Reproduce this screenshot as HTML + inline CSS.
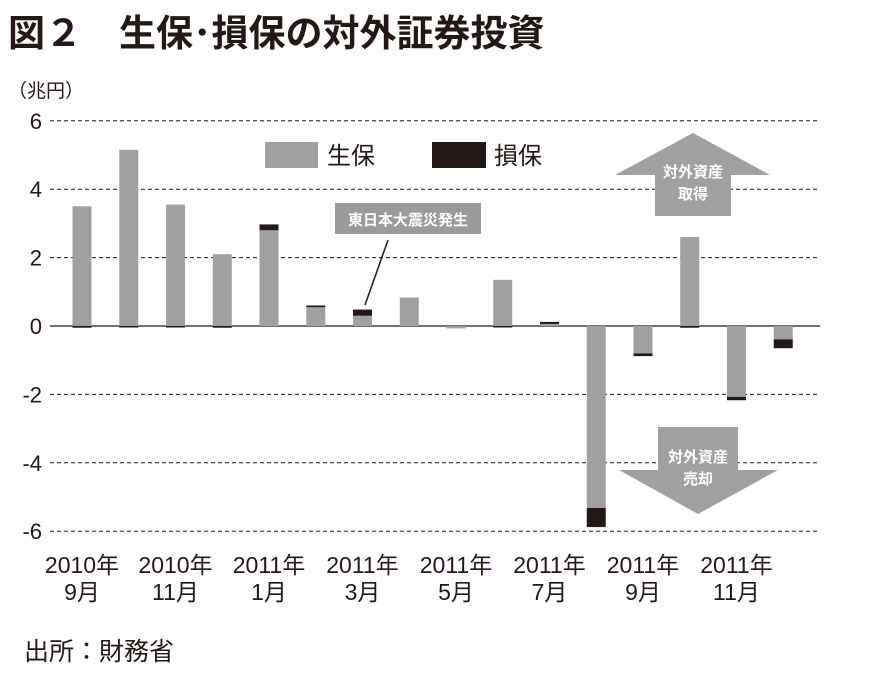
<!DOCTYPE html>
<html><head><meta charset="utf-8"><style>
body{margin:0;background:#fff;}
svg text{font-family:"Liberation Sans","Noto Sans CJK JP",sans-serif;}
</style></head><body>
<svg width="876" height="668" viewBox="0 0 876 668" xmlns="http://www.w3.org/2000/svg">
<text x="8" y="46" font-size="37" font-weight="bold" fill="#231815">図２　生保･損保の対外証券投資</text>
<text x="8" y="97" font-size="19" fill="#231815">（兆円）</text>
<g id="grid"></g>
<g id="bars"></g>
<g id="ylabels"></g>
<g id="xlabels"></g>
<g>
<rect x="265" y="142" width="53" height="26" fill="#a0a0a0"/>
<text x="327" y="164" font-size="24" fill="#231815">生保</text>
<rect x="432" y="142" width="54" height="26" fill="#231815"/>
<text x="494" y="164" font-size="24" fill="#231815">損保</text>
</g>
<g>
<rect x="335" y="203" width="146" height="31" fill="#9a9a9a"/>
<text x="408" y="225" font-size="15" font-weight="bold" fill="#fff" text-anchor="middle">東日本大震災発生</text>
<line x1="388" y1="240" x2="365" y2="305" stroke="#231815" stroke-width="1.5"/>
</g>
<g>
<polygon points="693,133 770,175 731,175 731,216 655,216 655,175 615,175" fill="#a0a0a0"/>
<text x="693" y="177" font-size="15" font-weight="bold" fill="#fff" text-anchor="middle">対外資産</text>
<text x="693" y="199" font-size="15" font-weight="bold" fill="#fff" text-anchor="middle">取得</text>
</g>
<g>
<polygon points="658,427 738,427 738,470 778,470 698,514 619,470 658,470" fill="#a0a0a0"/>
<text x="698" y="462" font-size="15" font-weight="bold" fill="#fff" text-anchor="middle">対外資産</text>
<text x="698" y="484" font-size="15" font-weight="bold" fill="#fff" text-anchor="middle">売却</text>
</g>
<text x="24" y="660" font-size="25" fill="#231815">出所：財務省</text>
</svg>
<script>
const months=["2010-09","2010-10","2010-11","2010-12","2011-01","2011-02","2011-03","2011-04","2011-05","2011-06","2011-07","2011-08","2011-09","2011-10","2011-11","2011-12"];
const seiho=[3.5,5.15,3.55,2.1,2.8,0.55,0.3,0.83,-0.07,1.35,0.06,-5.32,-0.8,2.6,-2.07,-0.39];
const sonpo=[-0.05,-0.02,-0.02,-0.05,0.17,0.05,0.18,0,0,-0.02,0.06,-0.56,-0.08,-0.05,-0.1,-0.26];
const yTicks=[6,4,2,0,-2,-4,-6];
const xLabelTop=["2010年","2010年","2011年","2011年","2011年","2011年","2011年","2011年"];
const xLabelBot=["9月","11月","1月","3月","5月","7月","9月","11月"];
const NS="http://www.w3.org/2000/svg";
const y=v=>326-v*34.2;
const x=i=>82+i*46.75;
const bw=19;
function mk(t,a,p){const e=document.createElementNS(NS,t);for(const k in a)e.setAttribute(k,a[k]);p.appendChild(e);return e;}
const grid=document.getElementById('grid'),bars=document.getElementById('bars'),yl=document.getElementById('ylabels'),xl=document.getElementById('xlabels');
yTicks.forEach(t=>{
 const ln=mk('line',{x1:50,x2:820,y1:y(t),y2:y(t),stroke:'#231815','stroke-width':t===0?1.3:1,'stroke-dasharray':t===0?'none':'4,3'},grid);
 
 
 const tx=mk('text',{x:42,y:y(t)+8,'font-size':22,'text-anchor':'end',fill:'#231815'},yl);
 tx.textContent=t;
 
 
});
months.forEach((m,i)=>{
 const a=seiho[i],b=sonpo[i];
 const r1=mk('rect',{x:x(i)-bw/2,y:Math.min(y(0),y(a)),width:bw,height:Math.abs(y(a)-y(0)),fill:'#a0a0a0'},bars);
 
 
 let base=(b*a>=0||a===0)?a:0;
 if(b!==0){
  const r2=mk('rect',{x:x(i)-bw/2,y:Math.min(y(base),y(base+b)),width:bw,height:Math.max(1.5,Math.abs(y(base+b)-y(base))),fill:'#231815'},bars);
  
  
 }
});
xLabelTop.forEach((s,k)=>{
 const cx=x(k*2);
 const t1=mk('text',{x:cx,y:573,'font-size':23,'text-anchor':'middle',fill:'#231815'},xl);
 t1.textContent=s;
 
 
 const t2=mk('text',{x:cx,y:600,'font-size':23,'text-anchor':'middle',fill:'#231815'},xl);
 t2.textContent=xLabelBot[k];
 
 
});
</script>
</body></html>
